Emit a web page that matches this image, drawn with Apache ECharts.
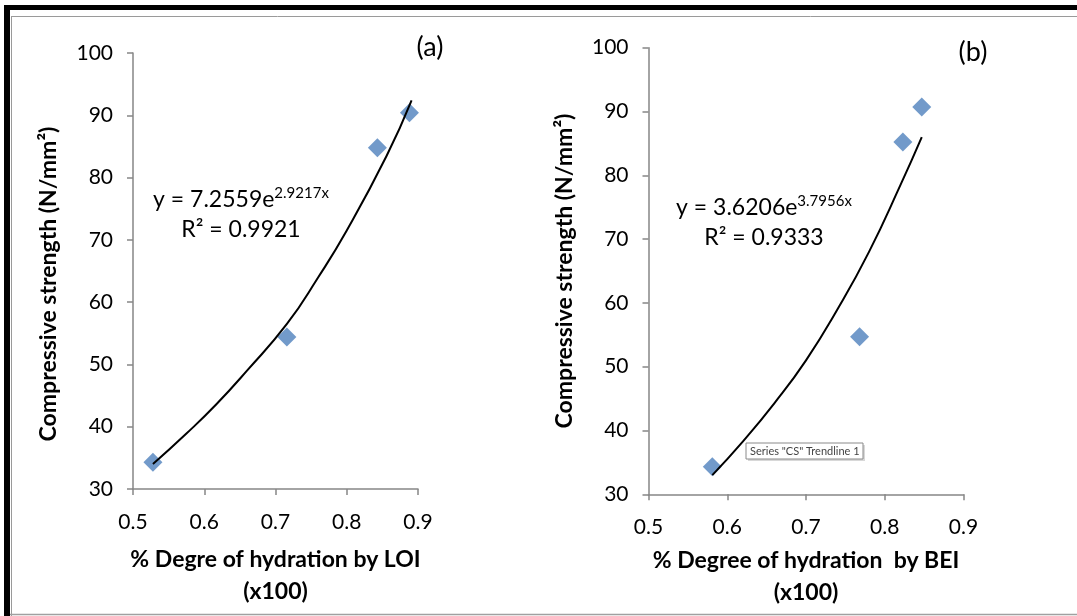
<!DOCTYPE html>
<html>
<head>
<meta charset="utf-8">
<script src="https://cdn.jsdelivr.net/npm/echarts@6/dist/echarts.min.js"></script>
<style>
  html, body { margin: 0; padding: 0; background: #fff; }
  #chart { width: 1077px; height: 616px; }
</style>
</head>
<body>
<div id="chart"></div>
<script>
// (a) degree of hydration by LOI vs compressive strength
const hydrationLOI = [0.528, 0.716, 0.843, 0.888];
const strengthLOI = [34.3, 54.4, 84.8, 90.4];
// trendline (a)
const trendLOIx = [0.528, 0.575, 0.617, 0.66, 0.716, 0.76, 0.80, 0.856, 0.891];
const trendLOIy = [34.0, 38.9, 43.6, 49.0, 56.5, 64.0, 71.5, 83.5, 92.4];

// (b) degree of hydration by BEI vs compressive strength
const hydrationBEI = [0.581, 0.768, 0.823, 0.847];
const strengthBEI = [34.3, 54.7, 85.2, 90.7];
// trendline (b)
const trendBEIx = [0.581, 0.62, 0.66, 0.70, 0.74, 0.78, 0.82, 0.847];
const trendBEIy = [33.0, 38.3, 44.3, 51.0, 59.0, 68.0, 78.5, 86.0];

const xTicks = [0.5, 0.9, 0.1];   // min, max, interval
const yTicks = [30, 100, 10];

const axisGray = "#868686";
const markerBlue = "#4F81BD";
const fontFamily = "Lato, 'Open Sans', sans-serif";

const pairs = (xs, ys) => xs.map((x, i) => [x, ys[i]]);

function xAxisCfg(gridIndex, name, nameGap, labelMargin) {
  return {
    type: "value",
    gridIndex: gridIndex,
    min: xTicks[0],
    max: xTicks[1],
    interval: xTicks[2],
    name: name,
    nameLocation: "middle",
    nameGap: nameGap,
    nameTextStyle: {
      fontFamily: fontFamily,
      fontWeight: "bold",
      fontSize: 23,
      color: "#000",
      lineHeight: 32,
    },
    splitLine: { show: false },
    axisLine: { lineStyle: { color: axisGray, width: 1.5 } },
    axisTick: { length: 6, lineStyle: { color: axisGray, width: 1.5 } },
    axisLabel: {
      margin: labelMargin,
      fontFamily: fontFamily,
      fontSize: 21,
      color: "#000",
    },
  };
}

function yAxisCfg(gridIndex, nameGap, padding) {
  return {
    type: "value",
    gridIndex: gridIndex,
    min: yTicks[0],
    max: yTicks[1],
    interval: yTicks[2],
    name: "Compressive strength (N/mm²)",
    nameLocation: "middle",
    nameGap: nameGap,
    nameRotate: 90,
    nameTextStyle: {
      fontFamily: fontFamily,
      fontWeight: "bold",
      fontSize: 23,
      color: "#000",
      padding: padding,
    },
    splitLine: { show: false },
    axisLine: { show: true, lineStyle: { color: axisGray, width: 1.5 } },
    axisTick: { show: true, length: 6, lineStyle: { color: axisGray, width: 1.5 } },
    axisLabel: {
      margin: 20,
      fontFamily: fontFamily,
      fontSize: 21,
      color: "#000",
    },
  };
}

function equation(x, y, a, b, r2) {
  return {
    type: "text",
    x: x,
    y: y,
    style: {
      text: "{n|y = " + a + "e}{s|" + b + "x}\n{n|R² = " + r2 + "}",
      align: "center",
      fontFamily: fontFamily,
      lineHeight: 30,
      rich: {
        n: { fontFamily: fontFamily, fontSize: 23, color: "#000" },
        s: { fontFamily: fontFamily, fontSize: 15, color: "#000", padding: [0, 0, 13, 0] },
      },
    },
  };
}

const chart = echarts.init(document.getElementById("chart"));

const option = {
  backgroundColor: "#fff",
  animation: false,
  grid: [
    { left: 133, top: 53, width: 285, height: 436 },
    { left: 648.5, top: 47.7, width: 315, height: 446.6 },
  ],
  xAxis: [
    xAxisCfg(0, "% Degre of hydration by LOI\n(x100)", 55, 23),
    xAxisCfg(1, "% Degree of hydration  by BEI\n(x100)", 50, 22),
  ],
  yAxis: [yAxisCfg(0, 73, [0, 26, 0, 0]), yAxisCfg(1, 72, 0)],
  series: [
    {
      name: "CS",
      type: "scatter",
      xAxisIndex: 0,
      yAxisIndex: 0,
      symbol: "diamond",
      symbolSize: 19,
      itemStyle: { color: markerBlue },
      data: pairs(hydrationLOI, strengthLOI),
      z: 2,
    },
    {
      name: "Trendline a",
      type: "line",
      xAxisIndex: 0,
      yAxisIndex: 0,
      smooth: true,
      showSymbol: false,
      lineStyle: { color: "#000", width: 2 },
      data: pairs(trendLOIx, trendLOIy),
      z: 3,
    },
    {
      name: "CS",
      type: "scatter",
      xAxisIndex: 1,
      yAxisIndex: 1,
      symbol: "diamond",
      symbolSize: 19,
      itemStyle: { color: markerBlue },
      data: pairs(hydrationBEI, strengthBEI),
      z: 2,
    },
    {
      name: "Trendline b",
      type: "line",
      xAxisIndex: 1,
      yAxisIndex: 1,
      smooth: true,
      showSymbol: false,
      lineStyle: { color: "#000", width: 2 },
      data: pairs(trendBEIx, trendBEIy),
      z: 3,
    },
  ],
  graphic: [
    // frame
    { type: "rect", shape: { x: 4, y: 5, width: 1073, height: 5 }, style: { fill: "#000" } },
    { type: "rect", shape: { x: 4, y: 5, width: 6, height: 611 }, style: { fill: "#000" } },
    { type: "line", shape: { x1: 11, y1: 16.5, x2: 1077, y2: 16.5 }, style: { stroke: "#9a9a9a", lineWidth: 1 } },
    { type: "line", shape: { x1: 11.5, y1: 16, x2: 11.5, y2: 616 }, style: { stroke: "#9a9a9a", lineWidth: 1 } },
    { type: "line", shape: { x1: 10, y1: 614.5, x2: 1077, y2: 614.5 }, style: { stroke: "#a0a0a0", lineWidth: 1.5 } },
    // panel labels
    { type: "text", x: 430, y: 47, style: { text: "(a)", align: "center", verticalAlign: "middle", fontFamily: fontFamily, fontSize: 27, fill: "#000" } },
    { type: "text", x: 973, y: 52, style: { text: "(b)", align: "center", verticalAlign: "middle", fontFamily: fontFamily, fontSize: 27, fill: "#000" } },
    // trendline equations
    equation(241, 185, "7.2559", "2.9217", "0.9921"),
    equation(764, 193, "3.6206", "3.7956", "0.9333"),
    // hover label left in the screenshot
    {
      type: "group",
      x: 746,
      y: 443,
      children: [
        { type: "rect", shape: { x: 2, y: 2, width: 117, height: 16 }, style: { fill: "#d8d8d8" } },
        { type: "rect", shape: { x: 0, y: 0, width: 117, height: 16 }, style: { fill: "#fff", stroke: "#8a8a8a", lineWidth: 1 } },
        { type: "text", x: 4, y: 8, style: { text: 'Series "CS" Trendline 1', verticalAlign: "middle", fontFamily: fontFamily, fontSize: 11, fill: "#444" } },
      ],
    },
  ],
};

chart.setOption(option);
</script>
</body>
</html>
